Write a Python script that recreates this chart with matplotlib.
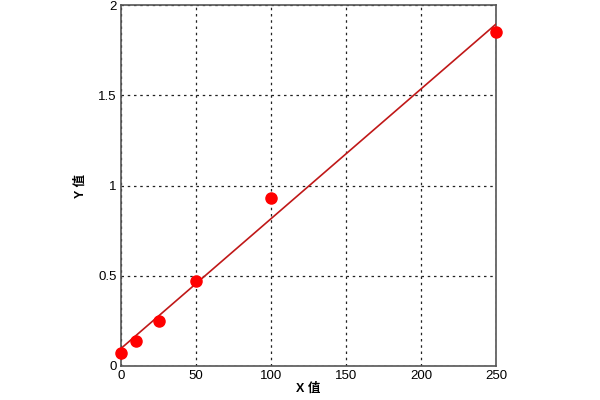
import matplotlib
matplotlib.use("Agg")
import matplotlib.pyplot as plt
import numpy as np

plt.rcParams['font.family'] = ['Liberation Sans', 'Noto Sans CJK SC']

# standard curve points
x_vals = [0, 10, 25, 50, 100, 250]
y_vals = [0.07, 0.14, 0.25, 0.47, 0.93, 1.85]
x_ticks = [0, 50, 100, 150, 200, 250]
y_ticks = [0, 0.5, 1, 1.5, 2]
y_tick_labels = ['0', '0.5', '1', '1.5', '2']

fig = plt.figure(figsize=(6, 4), dpi=100)
ax = fig.add_axes([0.2017, 0.085, 0.625, 0.9025])

# fitted line through the points
k, b = np.polyfit(x_vals, y_vals, 1)
xx = np.array([x_vals[0], x_vals[-1]])
ax.plot(xx, k * xx + b, color='#c01818', lw=1.2, zorder=3)
ax.plot(x_vals, y_vals, 'o', color='#ff0000', markersize=8, zorder=4, clip_on=False)

ax.set_xlim(0, 250)
ax.set_ylim(0, 2)
ax.set_xticks(x_ticks)
ax.set_yticks(y_ticks)
ax.set_yticklabels(y_tick_labels)
ax.tick_params(length=0, labelsize=9.5, pad=3)
ax.grid(True, color='#222222', linestyle=(0, (2, 3)), lw=0.9)
for s in ax.spines.values():
    s.set_color('#555555')
    s.set_linewidth(1.2)

ax.set_xlabel('X 值', fontsize=9, fontweight='bold', labelpad=0)
ax.set_ylabel('Y 值', fontsize=9, fontweight='bold', labelpad=8)

fig.savefig('out.png', dpi=100)
